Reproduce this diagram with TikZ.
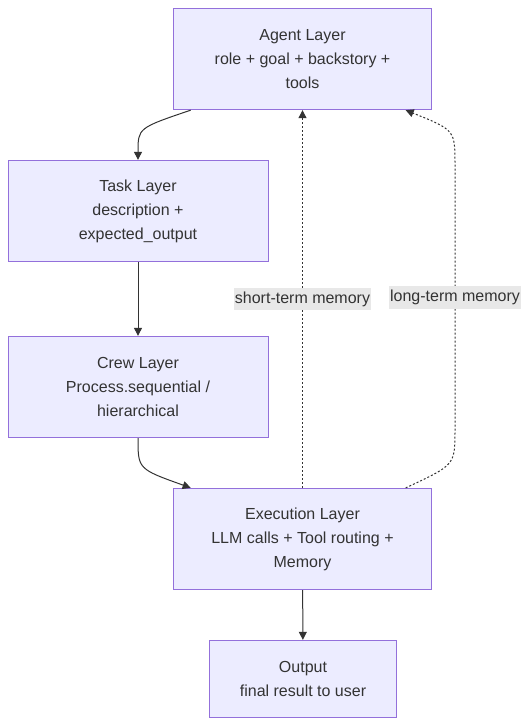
\documentclass[tikz,border=0pt]{standalone}
\usepackage{fontspec}
\setmainfont{Liberation Sans}
\usetikzlibrary{arrows.meta}
\definecolor{layerfill}{HTML}{ECECFF}
\definecolor{layerdraw}{HTML}{9370DB}
\definecolor{inkcol}{HTML}{333333}
\definecolor{tagfill}{HTML}{E8E8E8}
\tikzset{
  layer/.style={draw=layerdraw, fill=layerfill, line width=0.75pt, text=inkcol,
    align=center, inner sep=0pt, font=\fontsize{12}{18}\selectfont},
  flow/.style={-{Triangle[length=6pt,width=6pt,sep=0pt]}, line width=0.75pt, draw=inkcol},
  memflow/.style={flow, dash pattern=on 1.5pt off 1.5pt},
  tag/.style={fill=tagfill, text=inkcol, inner xsep=1pt, inner ysep=3pt,
    font=\fontsize{12}{14}\selectfont}
}
\begin{document}
\begin{tikzpicture}[x=0.75pt, y=-0.75pt]
            \useasboundingbox (0,0) rectangle (528,726);

            % Disegna i livelli
            \node[layer, minimum width=194pt, minimum height=76pt] (agent) at (302.5,59)
              {Agent Layer\\role + goal + backstory +\\tools};
            \node[layer, minimum width=195pt, minimum height=76pt] (task) at (138,211)
              {Task Layer\\description +\\expected\_output};
            \node[layer, minimum width=195pt, minimum height=76pt] (crew) at (138,387)
              {Crew Layer\\Process.sequential /\\hierarchical};
            \node[layer, minimum width=194pt, minimum height=76pt] (exec) at (302.5,539)
              {Execution Layer\\LLM calls + Tool routing +\\Memory};
            \node[layer, minimum width=140pt, minimum height=58pt] (out) at (303,679)
              {Output\\final result to user};

            % Flusso principale
            \draw[flow] ([xshift=13.5pt]agent.south west) .. controls (138,128) .. (task.north);
            \draw[flow] (task) -- (crew);
            \draw[flow] (crew.south) .. controls (138,469) .. ([xshift=13.5pt]exec.north west);
            \draw[flow] (exec) -- (out);

            % Memoria
            \draw[memflow] (exec.north) -- node[tag] {short-term memory} (agent.south);
            \draw[memflow] ([xshift=-20pt]exec.north east) .. controls (455,465) .. (455,430)
              -- node[tag] {long-term memory} (455,165)
              .. controls (455,130) .. ([xshift=-20pt]agent.south east);
        \end{tikzpicture}
\end{document}
